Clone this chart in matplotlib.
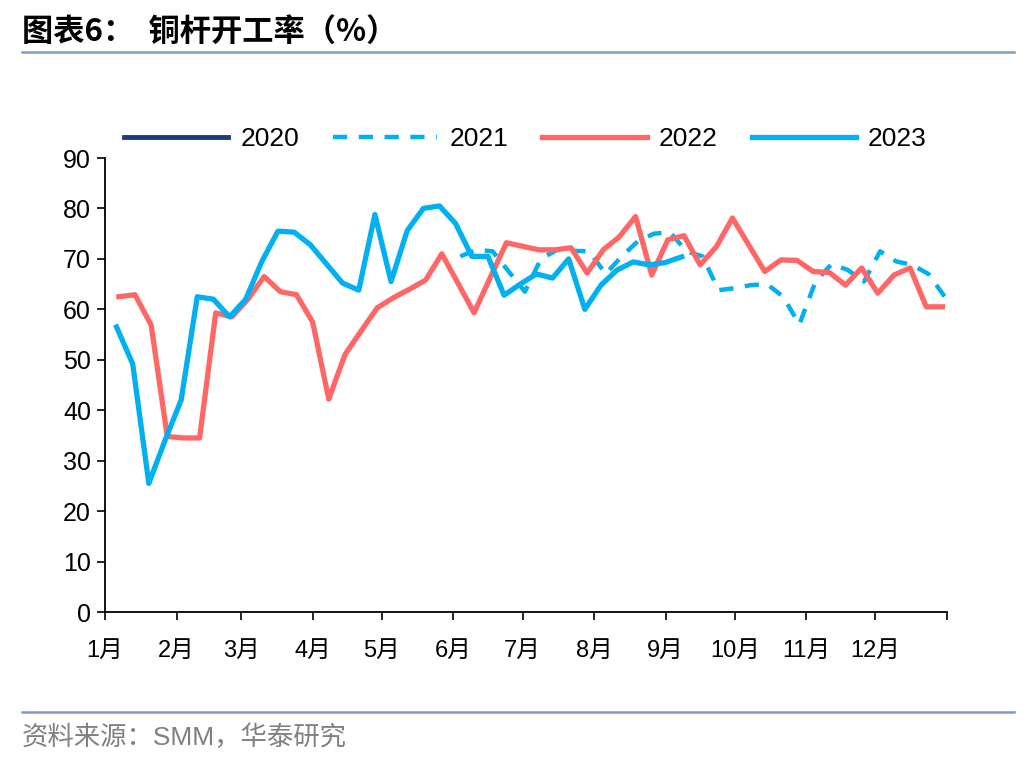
import matplotlib.pyplot as plt
import pandas as pd

plt.rcParams['font.family'] = ['Liberation Sans', 'Noto Sans CJK SC', 'DejaVu Sans']

# weekly copper rod operating rate (%), Friday readings
start_2021 = "2021-06-04"
start_2022 = "2022-01-07"
start_2023 = "2023-01-06"

rate_2020 = []
rate_2021 = [70.5, 71.8, 71.5, 67.5, 63.5, 70.0, 71.8, 71.6, 71.5, 67.0,
             70.5, 73.5, 75.0, 75.3, 71.5, 70.5, 63.8, 64.2, 64.8, 65.0,
             62.5, 57.0, 65.5, 69.0, 67.8, 65.5, 71.5, 69.5, 68.8, 67.0,
             62.5]
rate_2022 = [62.5, 62.9, 56.9, 34.8, 34.5, 34.5, 59.3, 58.5, 62.0, 66.5,
             63.5, 62.9, 57.5, 42.2, 51.0, 55.7, 60.3, 62.3, 64.0, 65.8,
             71.0, 65.2, 59.3, 66.3, 73.2, 72.5, 71.8, 71.8, 72.2, 67.2,
             71.8, 74.4, 78.4, 66.8, 73.8, 74.6, 68.8, 72.4, 78.1, 72.8,
             67.5, 69.8, 69.7, 67.5, 67.3, 64.8, 68.2, 63.2, 66.8, 68.2,
             60.5, 60.5]
rate_2023 = [56.5, 49.2, 25.5, 34.0, 42.0, 62.5, 62.0, 58.5, 62.0, 69.5,
             75.5, 75.3, 72.8, 69.0, 65.2, 63.8, 78.8, 65.5, 75.6, 80.0,
             80.5, 77.0, 70.5, 70.5, 62.8, 65.0, 67.0, 66.2, 70.0, 60.0,
             64.8, 67.8, 69.4, 68.8, 69.3, 70.4]

month_labels = ["1月", "2月", "3月", "4月", "5月", "6月", "7月", "8月",
                "9月", "10月", "11月", "12月"]


def day_of_year(start, n):
    d = pd.date_range(start, periods=n, freq="7D")
    return list(d.dayofyear - 1)


fig = plt.figure(figsize=(10.36, 7.6), dpi=100)
ax = fig.add_axes([105 / 1036, 1 - 612 / 760, 842 / 1036, 454 / 760])

ax.plot(day_of_year(start_2022, len(rate_2020)), rate_2020, color="#1F3C7A", lw=3.5, label="2020")
ax.plot(day_of_year(start_2021, len(rate_2021)), rate_2021, color="#00B0F0",
        lw=3.2, ls=(0, (3.2, 2.6)), label="2021")
ax.plot(day_of_year(start_2022, len(rate_2022)), rate_2022, color="#FF6666",
        lw=3.8, label="2022", solid_joinstyle="round")
ax.plot(day_of_year(start_2023, len(rate_2023)), rate_2023, color="#00B0F0",
        lw=3.8, label="2023", solid_joinstyle="round")

month_starts = list(pd.date_range("2022-01-01", periods=13, freq="MS").dayofyear - 1)
month_starts[-1] = 365
ax.set_xlim(0, 365)
ax.set_ylim(0, 90)
ax.set_yticks(range(0, 91, 10))
ax.set_xticks(month_starts)
ax.set_xticklabels(month_labels + [""], fontsize=17)
ax.tick_params(axis="y", labelsize=18, length=6, width=1.2, direction="out", pad=4)
ax.tick_params(axis="x", length=6, width=1.2, direction="out", pad=14)
for s in ["top", "right"]:
    ax.spines[s].set_visible(False)
for s in ["left", "bottom"]:
    ax.spines[s].set_linewidth(1.3)

leg = ax.legend(ncol=4, loc="center left", bbox_to_anchor=(0.0226, 1.042), frameon=False,
                handlelength=3.95, columnspacing=1.3, handletextpad=0.45,
                borderaxespad=0.0, borderpad=0.0,
                prop={"family": "Liberation Sans", "size": 19})

fig.text(22 / 1036, 1 - 33 / 760, "图表6：  铜杆开工率（%）", fontsize=22.5, fontweight="bold",
         family=["Noto Sans CJK SC"], va="center", ha="left")
fig.add_artist(plt.Line2D([22 / 1036, 1014 / 1036], [1 - 52 / 760, 1 - 52 / 760],
                          color="#7F9BC8", lw=1.8))
fig.add_artist(plt.Line2D([22 / 1036, 1014 / 1036], [1 - 712 / 760, 1 - 712 / 760],
                          color="#7F9BC8", lw=1.8))
fig.text(22 / 1036, 1 - 737 / 760, "资料来源：SMM，华泰研究", fontsize=19, color="#808080",
         va="center", ha="left")

fig.savefig("out.png", dpi=100)
